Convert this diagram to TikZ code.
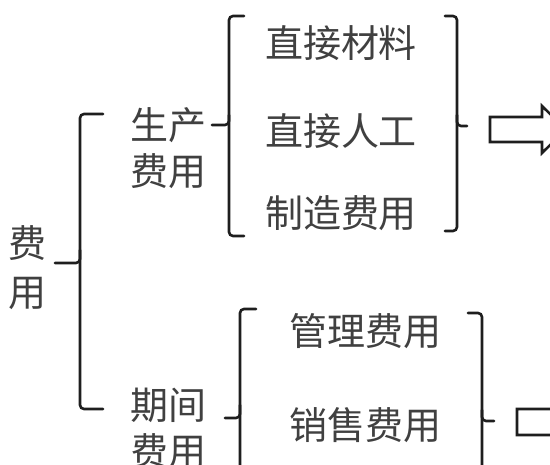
\documentclass[tikz,border=0pt]{standalone}
\usepackage{fontspec}
\newfontfamily\cjk{Noto Sans CJK SC}
\definecolor{txt}{HTML}{404040}
\definecolor{ln}{HTML}{1E1E1E}
\tikzset{
  lbl/.style={font=\cjk\fontsize{38}{46}\selectfont, text=txt, inner sep=0pt, align=center},
  brace/.style={draw=ln, line width=2.6pt, rounded corners=4pt, line cap=round},
  blockarrow/.style={draw=ln, line width=2.6pt, fill=white, line join=miter}
}
\begin{document}
\begin{tikzpicture}[x=1pt,y=-1pt]
\useasboundingbox (0,0) rectangle (550,465);
\clip (0,0) rectangle (550,465);
\fill[white] (0,0) rectangle (550,465);
% labels
\node[lbl, font=\cjk\fontsize{38}{49}\selectfont] (fy) at (28,268) {费\\用};
\node[lbl] (sc) at (168,148) {生产\\费用};
\node[lbl] (qj) at (168,428) {期间\\费用};
\node[lbl] (m1) at (341,43) {直接材料};
\node[lbl] (m2) at (341,131) {直接人工};
\node[lbl] (m3) at (341,213) {制造费用};
\node[lbl] (p1) at (365,331) {管理费用};
\node[lbl] (p2) at (365,425) {销售费用};
% brace A (费用)
\coordinate (aTip) at (55,263);
\draw[brace] (103,114) -- (80,114) -- (80,263) -- (aTip);
\draw[brace] (80,250) -- (80,409) -- (103,409);
% brace B (生产费用)
\coordinate (bTip) at (212,125);
\draw[brace] (244,16) -- (229,16) -- (229,125) -- (bTip);
\draw[brace] (229,115) -- (229,236) -- (244,236);
% brace C (right, first group)
\coordinate (cTip) at (467,126);
\draw[brace] (445,16) -- (457,16) -- (457,126) -- (cTip);
\draw[brace] (457,115) -- (457,231) -- (445,231);
% brace D (期间费用)
\coordinate (dTip) at (225,418);
\draw[brace] (256,309) -- (240,309) -- (240,418) -- (dTip);
\draw[brace] (240,405) -- (240,540) -- (256,540);
% brace E (right, second group)
\coordinate (eTip) at (494,421);
\draw[brace] (468,313) -- (482,313) -- (482,421) -- (eTip);
\draw[brace] (482,410) -- (482,540) -- (468,540);
% hollow arrows
\draw[blockarrow] (490,117) -- (542,117) -- (542,106) -- (566,129.5) -- (542,153) -- (542,142) -- (490,142) -- cycle;
\draw[blockarrow] (517,409) -- (569,409) -- (569,398) -- (593,422) -- (569,446) -- (569,435) -- (517,435) -- cycle;
\end{tikzpicture}
\end{document}
